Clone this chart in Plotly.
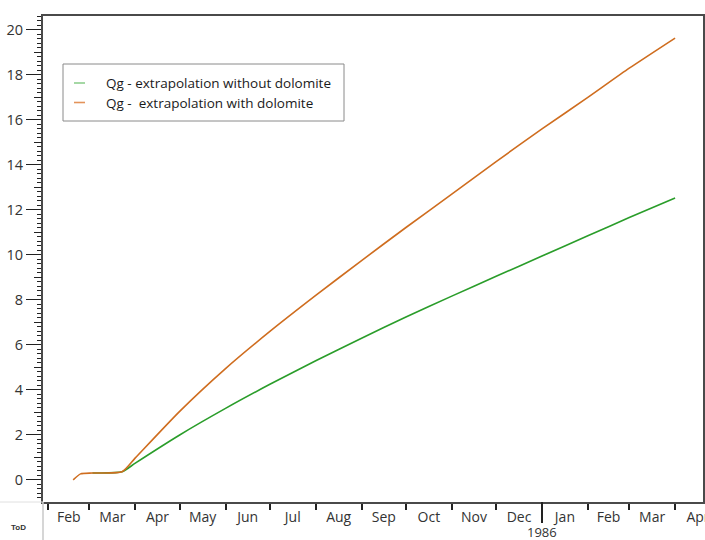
import plotly.graph_objects as go

# ---- data ----
dates_with = ["1985-02-18", "1985-02-23", "1985-03-03", "1985-03-23", "1985-04-01",
              "1985-05-01", "1985-06-01", "1985-07-01", "1985-08-01", "1985-09-01",
              "1985-10-01", "1985-11-01", "1985-12-01", "1986-01-01", "1986-02-01",
              "1986-03-01", "1986-04-01"]
qg_with = [0.0, 0.27, 0.31, 0.36, 0.98, 3.05, 4.95, 6.6, 8.2, 9.75,
           11.22, 12.7, 14.15, 15.6, 17.0, 18.3, 19.64]

dates_without = ["1985-03-03", "1985-03-23", "1985-04-01", "1985-05-01", "1985-06-01",
                 "1985-07-01", "1985-08-01", "1985-09-01", "1985-10-01", "1985-11-01",
                 "1985-12-01", "1986-01-01", "1986-02-01", "1986-03-01", "1986-04-01"]
qg_without = [0.31, 0.36, 0.75, 2.0, 3.18, 4.25, 5.3, 6.3, 7.24, 8.17,
              9.05, 9.95, 10.85, 11.66, 12.53]

names = ["Qg - extrapolation without dolomite", "Qg -  extrapolation with dolomite"]
colors = ["#2a9d2a", "#cf6d1f"]
legend_colors = ["#8fcf8f", "#e3935a"]

x_range = ["1985-01-28 14:00", "1986-04-19 21:00"]
y_range = [-0.98, 20.62]
year_label = "1986"
year_start = "1986-01-01"

PW, PH = 660, 486  # plot area size in px (for paper-coordinate placement)

fig = go.Figure()
fig.add_trace(go.Scatter(x=dates_without, y=qg_without, mode="lines", name=names[0],
                         line=dict(color=colors[0], width=1.6, shape="spline", smoothing=0.6),
                         showlegend=False))
fig.add_trace(go.Scatter(x=dates_with, y=qg_with, mode="lines", name=names[1],
                         line=dict(color=colors[1], width=1.6, shape="spline", smoothing=0.6),
                         showlegend=False))

# medium ticks at odd values via an overlaid axis
fig.add_trace(go.Scatter(x=[dates_with[0]], y=[0], yaxis="y2", mode="markers",
                         marker=dict(opacity=0), showlegend=False, hoverinfo="skip"))

tickfont = dict(family="Open Sans", size=14, color="#333333")

fig.update_layout(
    width=705, height=540,
    margin=dict(l=43, r=2, t=16, b=38, autoexpand=False),
    paper_bgcolor="white", plot_bgcolor="white",
    showlegend=False,
    xaxis=dict(range=x_range, type="date", showgrid=False, zeroline=False, automargin=False,
               showline=True, linecolor="#4a4a4a", linewidth=2, mirror=True,
               ticks="outside", ticklen=6, tickwidth=2, tickcolor="#222222",
               dtick="M1", tick0="1985-02-01", tickformat="%b",
               ticklabelmode="period", ticklabeloverflow="allow",
               tickfont=tickfont, ticklabelstandoff=-5),
    yaxis=dict(range=y_range, showgrid=False, zeroline=False, automargin=False,
               showline=True, linecolor="#4a4a4a", linewidth=2, mirror=True,
               ticks="outside", ticklen=15, tickwidth=1, tickcolor="#222222",
               tick0=0, dtick=2, tickfont=dict(family="Open Sans", size=14.5, color="#333333"),
               minor=dict(ticks="outside", ticklen=4, dtick=0.2, tick0=0,
                          tickcolor="#222222", tickwidth=1, showgrid=False)),
    yaxis2=dict(range=y_range, overlaying="y", side="left", anchor="x", automargin=False,
                showgrid=False, zeroline=False, showline=False,
                ticks="outside", ticklen=8, tickwidth=1, tickcolor="#222222",
                tick0=1, dtick=2, showticklabels=False),
)

def px_x(x):
    return (x - 43) / PW

def px_y(y):
    return (502 - y) / PH

# custom legend box (short line symbols as in the reference)
fig.add_shape(type="rect", xref="paper", yref="paper",
              x0=px_x(63), x1=px_x(344), y0=px_y(121), y1=px_y(64),
              line=dict(color="#8a8a8a", width=1), fillcolor="white", layer="above")
for i, (nm, lc) in enumerate(zip(names, legend_colors)):
    yy = 83 + i * 19.5
    fig.add_shape(type="line", xref="paper", yref="paper",
                  x0=px_x(74), x1=px_x(85), y0=px_y(yy), y1=px_y(yy),
                  line=dict(color=lc, width=1.6), layer="above")
    fig.add_annotation(x=px_x(104), y=px_y(yy), xref="paper", yref="paper",
                       xanchor="left", yanchor="middle", text=nm, showarrow=False,
                       font=dict(family="Open Sans", size=13.5, color="#1a1a1a"))

# long year tick and year label
fig.add_shape(type="line", xref="x", yref="paper", x0=year_start, x1=year_start,
              y0=0, y1=-21 / PH, line=dict(color="#222222", width=2))
fig.add_annotation(x=year_start, xref="x", y=px_y(532), yref="paper", yanchor="middle",
                   text=year_label, showarrow=False,
                   font=dict(family="Open Sans", size=13, color="#333333"))

# frame lines outside the plot (table-like layout)
fig.add_shape(type="line", xref="paper", yref="paper", x0=0, x1=0,
              y0=0, y1=-38 / PH, line=dict(color="#c8c8c8", width=1.5))
fig.add_shape(type="line", xref="paper", yref="paper", x0=-43 / PW, x1=0,
              y0=0, y1=0, line=dict(color="#e0e0e0", width=1))
fig.add_annotation(x=px_x(18), xref="paper", y=px_y(527), yref="paper",
                   xanchor="center", yanchor="middle", text="<b>ToD</b>",
                   showarrow=False, font=dict(family="Liberation Sans", size=8, color="#333333"))

fig.write_html("out.html")
